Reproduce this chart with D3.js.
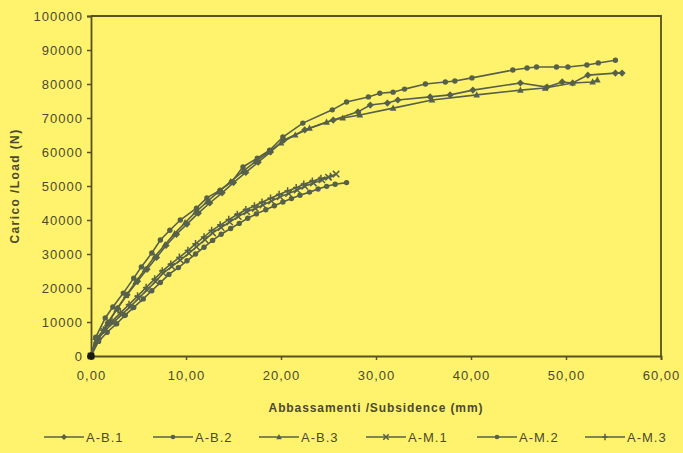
<!DOCTYPE html>
<html><head><meta charset="utf-8">
<script src="https://cdn.jsdelivr.net/npm/d3@7"></script>
<style>
html,body{margin:0;padding:0;background:#FFF36E;}
svg{display:block;font-family:"Liberation Sans",Arial,sans-serif;}
</style></head>
<body>
<svg id="chart" width="683" height="453"></svg>
<script>
// ---- data ----
const xTicks = [0, 10, 20, 30, 40, 50, 60];
const yTicks = [0, 10000, 20000, 30000, 40000, 50000, 60000, 70000, 80000, 90000, 100000];
const seriesNames = ["A-B.1", "A-B.2", "A-B.3", "A-M.1", "A-M.2", "A-M.3"];
const seriesMarkers = ["diamond", "circle", "triangle", "cross", "circle", "plus"];

const AB1_x = [0, 0.8, 1.8, 2.8, 3.8, 4.9, 5.9, 6.9, 7.9, 9.0, 10.1, 11.3, 12.5, 13.8, 15.0, 16.3, 17.6, 18.9, 20.3, 22.5, 25.5, 28.1, 29.4, 31.2, 32.3, 35.7, 37.8, 40.2, 45.2, 48.0, 49.6, 50.7, 52.3, 55.2, 55.9];
const AB1_y = [0, 5000, 9800, 14000, 18000, 22000, 25500, 29000, 32500, 35800, 38800, 42000, 45000, 48000, 51000, 54000, 57000, 60000, 63500, 66500, 69400, 71800, 73800, 74400, 75300, 76200, 76800, 78200, 80300, 79100, 80600, 80300, 82600, 83200, 83200];

const AB2_x = [0, 0.5, 1.5, 2.3, 3.4, 4.5, 5.3, 6.4, 7.3, 8.3, 9.4, 11.1, 12.2, 13.6, 14.8, 16.0, 17.5, 18.8, 20.2, 22.3, 25.4, 26.9, 29.2, 30.4, 31.8, 33.0, 35.2, 37.3, 38.3, 40.1, 44.4, 45.9, 46.9, 49.0, 50.2, 52.2, 53.4, 55.2];
const AB2_y = [0, 5500, 11200, 14400, 18500, 22900, 26200, 30300, 34100, 37000, 40000, 43500, 46500, 48800, 51200, 55600, 58200, 60500, 64400, 68500, 72400, 74700, 76200, 77300, 77600, 78500, 80000, 80600, 80900, 81800, 84100, 84700, 85000, 85000, 85000, 85600, 86200, 87000];

const AB3_x = [0, 0.7, 1.7, 2.7, 3.7, 4.7, 5.7, 6.7, 7.8, 8.8, 9.9, 11.0, 12.2, 13.4, 14.7, 16.0, 17.3, 18.7, 20.0, 21.5, 23.0, 24.8, 26.5, 28.3, 31.8, 35.9, 40.6, 45.2, 47.8, 50.7, 52.8, 53.3];
const AB3_y = [0, 4800, 9500, 13800, 17800, 21800, 25500, 29200, 32800, 36000, 39200, 42300, 45300, 48300, 51300, 54300, 57200, 60000, 62700, 65000, 67000, 68800, 70000, 70900, 72900, 75300, 76800, 78200, 78800, 80300, 80600, 81200];

const AM1_x = [0, 0.6, 1.4, 2.3, 3.2, 4.1, 5.0, 5.9, 6.8, 7.6, 8.5, 9.4, 10.3, 11.1, 12.0, 12.8, 13.7, 14.6, 15.5, 16.4, 17.3, 18.1, 19.0, 19.9, 20.8, 21.7, 22.5, 23.4, 24.3, 25.0, 25.8];
const AM1_y = [0, 4700, 7200, 9700, 12100, 14400, 16900, 19400, 21900, 24400, 26300, 28200, 30200, 32100, 34200, 36200, 37800, 39400, 41000, 42400, 43400, 44400, 45600, 46800, 47800, 48800, 49900, 50900, 51800, 52600, 53500];

const AM2_x = [0, 0.8, 1.7, 2.7, 3.6, 4.5, 5.5, 6.4, 7.3, 8.2, 9.2, 10.1, 11.0, 11.9, 12.8, 13.7, 14.7, 15.6, 16.5, 17.4, 18.4, 19.3, 20.2, 21.1, 22.0, 23.0, 23.9, 24.8, 25.7, 26.9];
const AM2_y = [0, 4300, 7000, 9500, 12000, 14300, 16800, 19200, 21600, 24000, 26000, 28000, 30000, 32000, 34000, 35800, 37500, 39000, 40500, 41800, 43000, 44200, 45300, 46300, 47300, 48200, 49100, 49900, 50500, 51000];

const AM3_x = [0, 0.5, 1.3, 2.2, 3.1, 4.0, 4.9, 5.8, 6.7, 7.5, 8.4, 9.3, 10.2, 11.0, 11.9, 12.7, 13.6, 14.5, 15.4, 16.3, 17.2, 18.0, 18.9, 19.8, 20.7, 21.6, 22.4, 23.3, 24.2, 25.2];
const AM3_y = [0, 4900, 7600, 10200, 12700, 15100, 17600, 20100, 22600, 25000, 27000, 29000, 31000, 33000, 35000, 36900, 38500, 40100, 41600, 43000, 44100, 45200, 46400, 47500, 48500, 49500, 50500, 51400, 52200, 52800];

const seriesX = [AB1_x, AB2_x, AB3_x, AM1_x, AM2_x, AM3_x];
const seriesY = [AB1_y, AB2_y, AB3_y, AM1_y, AM2_y, AM3_y];

// ---- layout ----
const svg = d3.select("#chart");
const mLeft = 91, mRight = 661, mTop = 16, mBottom = 356;
const lineCol = "#56604a", axisCol = "#57511f", textCol = "#4b4a2c";

const x = d3.scaleLinear().domain([0, 60]).range([mLeft, mRight]);
const y = d3.scaleLinear().domain([0, 100000]).range([mBottom, mTop]);

svg.append("rect").attr("width", 683).attr("height", 453).attr("fill", "#FFF36E");

// plot border (top + right)
svg.append("path")
  .attr("d", `M${mLeft},${mTop}H${mRight}V${mBottom}`)
  .attr("fill", "none").attr("stroke", axisCol).attr("stroke-width", 1.8);

// axes
const xAxis = d3.axisBottom(x).tickValues(xTicks).tickSize(4).tickPadding(11)
  .tickFormat(d => d3.format(".2f")(d).replace(".", ","));
const gx = svg.append("g").attr("transform", `translate(0,${mBottom})`).call(xAxis);
const yAxis = d3.axisLeft(y).tickValues(yTicks).tickSize(4).tickPadding(4)
  .tickFormat(d3.format("d"));
const gy = svg.append("g").attr("transform", `translate(${mLeft},0)`).call(yAxis);
[gx, gy].forEach(g => {
  g.select(".domain").attr("stroke", axisCol).attr("stroke-width", 1.8);
  g.selectAll(".tick line").attr("stroke", axisCol).attr("stroke-width", 1.5);
  g.selectAll(".tick text").attr("fill", textCol).attr("font-size", 13)
    .attr("letter-spacing", "1px")
    .attr("font-family", "'Liberation Sans',Arial,sans-serif");
});

// titles
svg.append("text").attr("x", 376).attr("y", 412).attr("text-anchor", "middle")
  .attr("font-size", 12).attr("font-weight", "bold").attr("fill", textCol)
  .attr("letter-spacing", "0.9px")
  .text("Abbassamenti /Subsidence  (mm)");
svg.append("text").attr("transform", `translate(19,186) rotate(-90)`)
  .attr("text-anchor", "middle").attr("font-size", 12).attr("font-weight", "bold")
  .attr("letter-spacing", "1.4px")
  .attr("fill", textCol).text("Carico /Load  (N)");

// markers
function marker(g, type, cx, cy, s) {
  s = s || 1;
  if (type === "circle") {
    g.append("circle").attr("cx", cx).attr("cy", cy).attr("r", 2.7 * s).attr("fill", lineCol);
  } else if (type === "diamond") {
    g.append("path").attr("d", `M${cx},${cy-3.6*s}L${cx+3.6*s},${cy}L${cx},${cy+3.6*s}L${cx-3.6*s},${cy}Z`).attr("fill", lineCol);
  } else if (type === "triangle") {
    g.append("path").attr("d", `M${cx},${cy-3.6*s}L${cx+3.3*s},${cy+2.6*s}L${cx-3.3*s},${cy+2.6*s}Z`).attr("fill", lineCol);
  } else if (type === "cross") {
    g.append("path").attr("d", `M${cx-3.2*s},${cy-3.2*s}L${cx+3.2*s},${cy+3.2*s}M${cx+3.2*s},${cy-3.2*s}L${cx-3.2*s},${cy+3.2*s}`)
      .attr("stroke", lineCol).attr("stroke-width", 1.5);
  } else if (type === "plus") {
    g.append("path").attr("d", `M${cx},${cy-3.8*s}V${cy+3.8*s}M${cx-3.2*s},${cy}H${cx+3.2*s}`)
      .attr("stroke", lineCol).attr("stroke-width", 1.5);
  }
}

const line = d3.line().x(d => x(d[0])).y(d => y(d[1]));
const plot = svg.append("g");
seriesNames.forEach((name, i) => {
  const pts = seriesX[i].map((v, j) => [v, seriesY[i][j]]);
  plot.append("path").datum(pts).attr("d", line).attr("fill", "none")
    .attr("stroke", lineCol).attr("stroke-width", 1.6);
  const mg = plot.append("g");
  pts.forEach(p => marker(mg, seriesMarkers[i], x(p[0]), y(p[1])));
});
// origin dot
plot.append("circle").attr("cx", x(0)).attr("cy", y(0)).attr("r", 3.8).attr("fill", "#1a1a10");

// legend
const legX = [64, 173, 279, 386, 497, 605];
const legY = 437;
seriesNames.forEach((name, i) => {
  const g = svg.append("g");
  g.append("line").attr("x1", legX[i] - 20).attr("x2", legX[i] + 20)
    .attr("y1", legY).attr("y2", legY).attr("stroke", lineCol).attr("stroke-width", 1.5);
  marker(g, seriesMarkers[i], legX[i], legY, 0.85);
  g.append("text").attr("x", legX[i] + 22).attr("y", legY + 4.5)
    .attr("font-size", 13).attr("letter-spacing", "1px").attr("fill", textCol).text(name);
});
</script>
</body></html>
